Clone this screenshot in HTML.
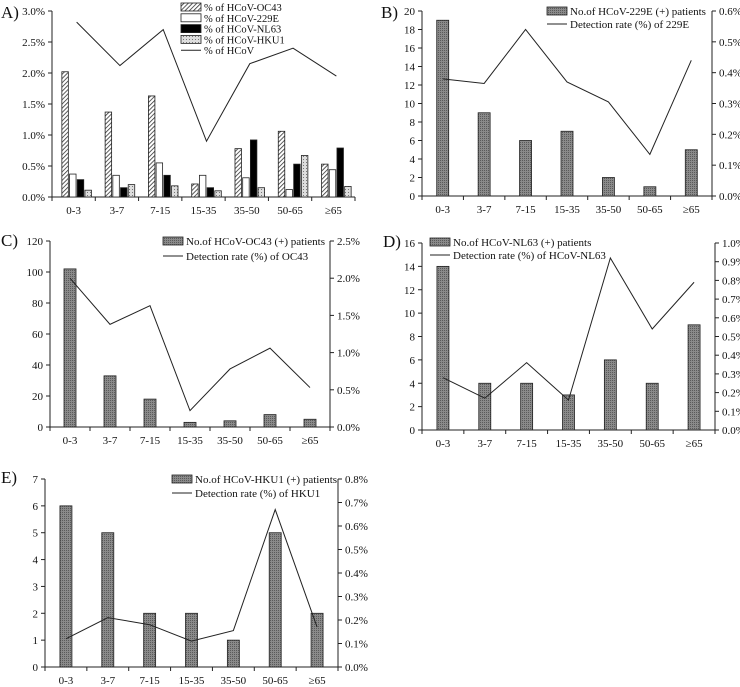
<!DOCTYPE html>
<html><head><meta charset="utf-8"><style>
body{margin:0;background:#fff}
svg{display:block;font-family:"Liberation Serif",serif}
text{fill:#111}
</style></head><body>
<svg id="chart" width="740" height="687" viewBox="0 0 740 687" xmlns="http://www.w3.org/2000/svg">
<defs>
<pattern id="hatch" width="3" height="3" patternUnits="userSpaceOnUse" patternTransform="rotate(45)"><rect width="3" height="3" fill="#fff"/><line x1="0" y1="0" x2="0" y2="3" stroke="#333" stroke-width="1.6"/></pattern>
<pattern id="dots" width="3" height="3" patternUnits="userSpaceOnUse"><rect width="3" height="3" fill="#ddd"/><rect width="1" height="1" fill="#777"/></pattern>
<pattern id="gray" width="2" height="2" patternUnits="userSpaceOnUse"><rect width="2" height="2" fill="#8a8a8a"/><rect width="1" height="1" fill="#5a5a5a"/></pattern>
</defs>
</svg>
<script>
const categories=["0-3","3-7","7-15","15-35","35-50","50-65","≥65"];
// Panel A
const aOC43=[2.02,1.37,1.63,0.21,0.78,1.06,0.53];
const a229E=[0.37,0.35,0.55,0.35,0.31,0.12,0.44];
const aNL63=[0.28,0.15,0.35,0.15,0.92,0.53,0.79];
const aHKU1=[0.11,0.20,0.18,0.10,0.15,0.67,0.17];
const aTotal=[2.82,2.12,2.70,0.90,2.15,2.40,1.95];
// Panel B
const bCounts=[19,9,6,7,2,1,5];
const bRate=[0.38,0.365,0.54,0.37,0.305,0.135,0.44];
// Panel C
const cCounts=[102,33,18,3,4,8,5];
const cRate=[2.0,1.38,1.63,0.22,0.78,1.06,0.53];
// Panel D
const dCounts=[14,4,4,3,6,4,9];
const dRate=[0.28,0.17,0.36,0.16,0.92,0.54,0.79];
// Panel E
const eCounts=[6,5,2,2,1,5,2];
const eRate=[0.12,0.21,0.18,0.11,0.155,0.67,0.17];

const svg=document.getElementById('chart');
const NS='http://www.w3.org/2000/svg';
function mk(tag,attrs,parent){const e=document.createElementNS(NS,tag);for(const k in attrs)e.setAttribute(k,attrs[k]);(parent||svg).appendChild(e);return e;}
function txt(s,x,y,anchor,size,parent){const t=mk('text',{x:x,y:y,'text-anchor':anchor,'font-size':size},parent);t.textContent=s;return t;}

function panel(c){
  const g=mk('g',{});
  
  
  const n=categories.length,bw=(c.x1-c.x0)/n;
  const cx=i=>c.x0+bw*(i+0.5);
  const yL=v=>c.yb-(v/c.lMax)*(c.yb-c.yt);
  const yR=v=>c.yb-(v/c.rMax)*(c.yb-c.yt);
  const lab=txt(c.label,c.lx,c.ly,'start',17,g);
  
  
  const ax=mk('line',{x1:c.x0,y1:c.yt,x2:c.x0,y2:c.yb,stroke:'#222','stroke-width':1},g);
  
  
  const xa=mk('line',{x1:c.x0,y1:c.yb,x2:c.x1,y2:c.yb,stroke:'#222','stroke-width':1},g);
  
  
  for(let v=0;v<=c.lMax+1e-9;v+=c.lStep){
    const y=yL(v);
    mk('line',{x1:c.x0-4,y1:y,x2:c.x0,y2:y,stroke:'#222'},g);
    const t=txt(c.lFmt(v),c.x0-7,y+4,'end',11,g);
    
    
  }
  if(c.rMax){
    const ra=mk('line',{x1:c.x1,y1:c.yt,x2:c.x1,y2:c.yb,stroke:'#222'},g);
    
    
    for(let v=0;v<=c.rMax+1e-9;v+=c.rStep){
      const y=yR(v);
      mk('line',{x1:c.x1,y1:y,x2:c.x1+4,y2:y,stroke:'#222'},g);
      const t=txt(v.toFixed(1)+'%',c.x1+7,y+4,'start',11,g);
      
      
    }
  }
  for(let i=0;i<=n;i++){const x=c.x0+bw*i;mk('line',{x1:x,y1:c.yb,x2:x,y2:c.yb+4,stroke:'#222'},g);}
  categories.forEach((s,i)=>{
    const t=txt(s,cx(i),c.yb+17,'middle',11,g);
    
    
  });
  if(c.groups){
    const w=6.5,gap=1.2,tot=c.groups.length*w+(c.groups.length-1)*gap;
    c.groups.forEach((s,k)=>{
      s.data.forEach((v,i)=>{
        const x=cx(i)-tot/2+k*(w+gap)+3;
        const r=mk('rect',{x:x,y:yL(v),width:w,height:c.yb-yL(v),fill:s.fill,stroke:'#222','stroke-width':0.8},g);
        
        
      });
    });
  } else {
    c.bars.forEach((v,i)=>{
      const r=mk('rect',{x:cx(i)-6,y:yL(v),width:12,height:c.yb-yL(v),fill:'url(#gray)',stroke:'#222','stroke-width':0.8},g);
      
      
    });
  }
  const yf=c.rMax?yR:yL;
  const off=c.groups?3:0;
  const pts=c.line.map((v,i)=>(cx(i)+off)+','+yf(v)).join(' ');
  const pl=mk('polyline',{points:pts,fill:'none',stroke:'#222','stroke-width':1},g);
  
  
  c.legend.forEach((L,k)=>{
    const y=c.legY+k*c.legDy;
    if(L.type==='line'){
      const l=mk('line',{x1:c.legX,y1:y,x2:c.legX+20,y2:y,stroke:'#222'},g);
      
      
    } else {
      const r=mk('rect',{x:c.legX,y:y-4,width:20,height:8,fill:L.fill,stroke:'#222','stroke-width':0.8},g);
      
      
    }
    const t=txt(L.text,c.legX+23,y+4,'start',c.legSize||11,g);
    
    
  });
}

panel({name:'panel-a',label:'A)',lx:1,ly:18,x0:52,x1:355,yt:11,yb:197,lMax:3.0,lStep:0.5,lFmt:v=>v.toFixed(1)+'%',
  groups:[{key:'oc43',data:aOC43,fill:'url(#hatch)'},{key:'229e',data:a229E,fill:'#fff'},{key:'nl63',data:aNL63,fill:'#000'},{key:'hku1',data:aHKU1,fill:'url(#dots)'}],
  line:aTotal,legX:181,legY:7,legDy:10.8,legSize:10.5,
  legend:[{text:'% of HCoV-OC43',fill:'url(#hatch)'},{text:'% of HCoV-229E',fill:'#fff'},{text:'% of HCoV-NL63',fill:'#000'},{text:'% of HCoV-HKU1',fill:'url(#dots)'},{text:'% of HCoV',type:'line'}]});
panel({name:'panel-b',label:'B)',lx:381,ly:18,x0:422,x1:712,yt:11,yb:196,lMax:20,lStep:2,lFmt:v=>String(v),rMax:0.6,rStep:0.1,
  bars:bCounts,line:bRate,legX:547,legY:11,legDy:13,
  legend:[{text:'No.of HCoV-229E (+) patients',fill:'url(#gray)'},{text:'Detection rate (%) of 229E',type:'line'}]});
panel({name:'panel-c',label:'C)',lx:1,ly:246,x0:50,x1:330,yt:241,yb:427,lMax:120,lStep:20,lFmt:v=>String(v),rMax:2.5,rStep:0.5,
  bars:cCounts,line:cRate,legX:163,legY:241,legDy:15,
  legend:[{text:'No.of HCoV-OC43 (+) patients',fill:'url(#gray)'},{text:'Detection rate (%) of OC43',type:'line'}]});
panel({name:'panel-d',label:'D)',lx:383,ly:247,x0:422,x1:715,yt:243,yb:430,lMax:16,lStep:2,lFmt:v=>String(v),rMax:1.0,rStep:0.1,
  bars:dCounts,line:dRate,legX:430,legY:242,legDy:13,
  legend:[{text:'No.of HCoV-NL63 (+) patients',fill:'url(#gray)'},{text:'Detection rate (%) of HCoV-NL63',type:'line'}]});
panel({name:'panel-e',label:'E)',lx:1,ly:483,x0:45,x1:338,yt:479,yb:667,lMax:7,lStep:1,lFmt:v=>String(v),rMax:0.8,rStep:0.1,
  bars:eCounts,line:eRate,legX:172,legY:479,legDy:14,
  legend:[{text:'No.of HCoV-HKU1 (+) patients',fill:'url(#gray)'},{text:'Detection rate (%) of HKU1',type:'line'}]});
</script>
</body></html>
